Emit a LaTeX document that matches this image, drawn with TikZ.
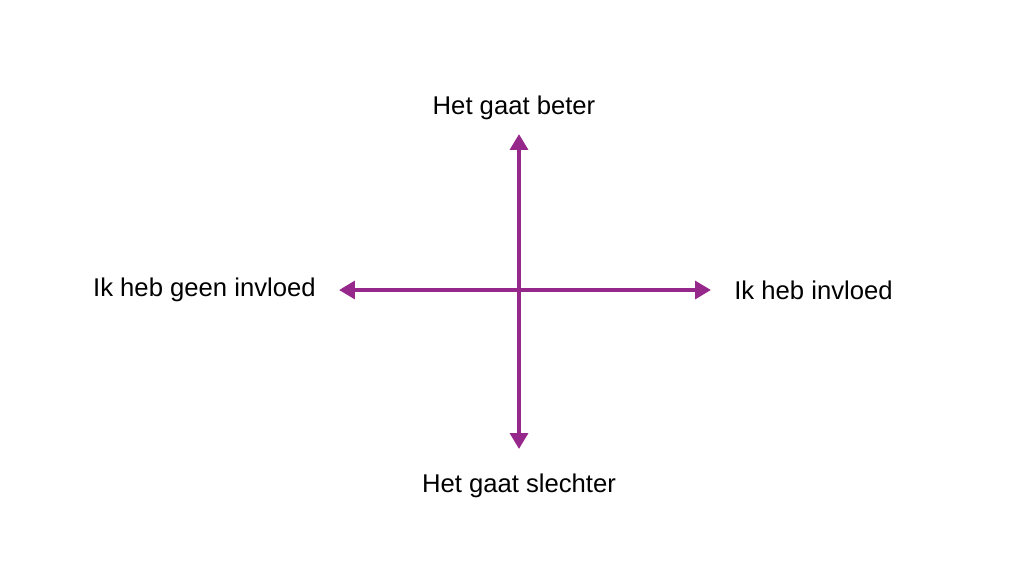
\documentclass[tikz,border=0pt]{standalone}
\usepackage{fontspec}
\setmainfont{Liberation Sans}
\usetikzlibrary{arrows.meta, positioning}
\definecolor{axispurple}{RGB}{150,40,140}

\begin{document}
\begin{tikzpicture}[x=0.02cm,y=-0.02cm]
    \tikzstyle{every node} = [font=\fontsize{14.6pt}{17pt}\selectfont]
    \tikzstyle{axis} = [draw=axispurple, line width=2.8pt, -{Triangle[length=9pt,width=10pt]}]
    \useasboundingbox (0,0) rectangle (1024,576);
    % place coordinates
    \coordinate (origin) at (519,290);
    \coordinate (top) at (519,134);
    \coordinate (bottom) at (519,449);
    \coordinate (left) at (339,290);
    \coordinate (right) at (711,290);
    % labels
    \node (better) at (514,108) {Het gaat beter};
    \node (worse) at (519,486) {Het gaat slechter};
    \node[anchor=east,inner sep=0pt] (noinfl) at (316,290) {Ik heb geen invloed};
    \node[anchor=west,inner sep=0pt] (infl) at (734,290) {Ik heb invloed};

    % Connections
    \draw[axis] (origin)--(top);
    \draw[axis] (origin)--(bottom);
    \draw[axis] (origin)--(left);
    \draw[axis] (origin)--(right);
\end{tikzpicture}
\end{document}
